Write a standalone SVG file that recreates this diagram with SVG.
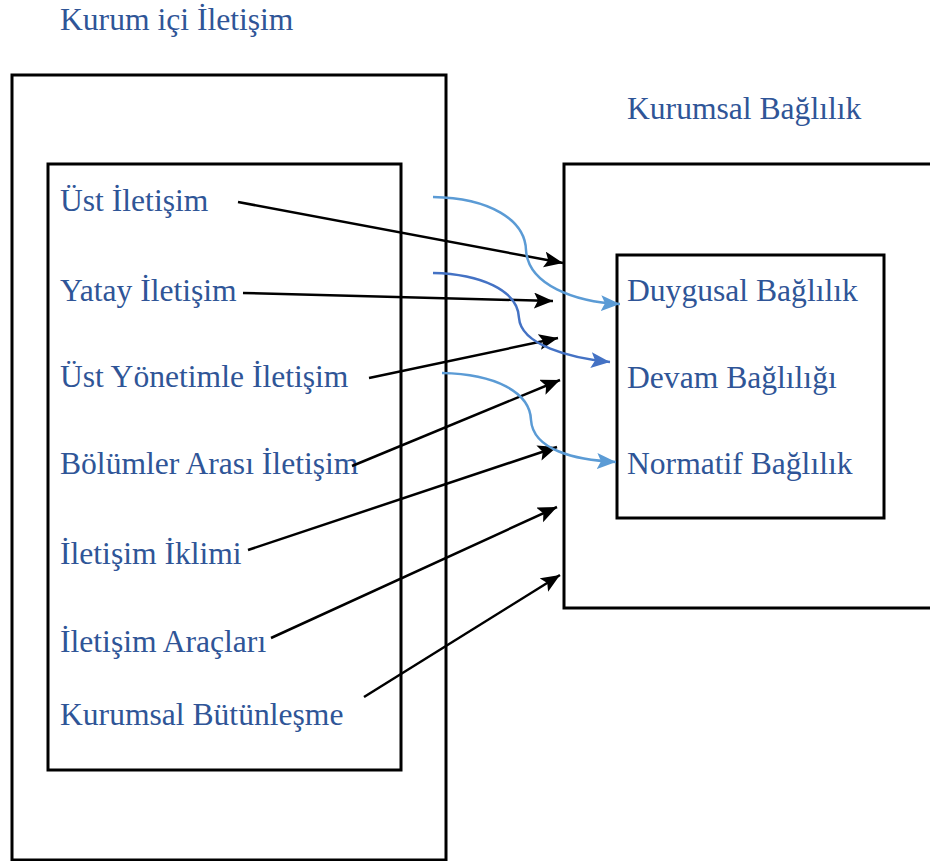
<svg xmlns="http://www.w3.org/2000/svg" width="930" height="861" viewBox="0 0 930 861">
<style>
.box{fill:none;stroke:#000;stroke-width:3}
.t{font-family:"Liberation Serif","Times New Roman",serif;font-size:31.6px;fill:#2F5597}
.a{fill:none;stroke:#000;stroke-width:2.5}
.c1{fill:none;stroke:#5B9BD5;stroke-width:2.5}
.c2{fill:none;stroke:#4472C4;stroke-width:2.5}
</style>
<defs>
<marker id="mk" markerUnits="userSpaceOnUse" markerWidth="22" markerHeight="18" refX="19" refY="8" orient="auto"><path d="M0,0 L19,8 L0,16 L4,8 Z" fill="#000"/></marker>
<marker id="mb1" markerUnits="userSpaceOnUse" markerWidth="22" markerHeight="18" refX="19" refY="8" orient="auto"><path d="M0,0 L19,8 L0,16 L4,8 Z" fill="#5B9BD5"/></marker>
<marker id="mb2" markerUnits="userSpaceOnUse" markerWidth="22" markerHeight="18" refX="19" refY="8" orient="auto"><path d="M0,0 L19,8 L0,16 L4,8 Z" fill="#4472C4"/></marker>
</defs>
<text class="t" x="60" y="30">Kurum içi İletişim</text>
<text class="t" x="627" y="119">Kurumsal Bağlılık</text>
<g id="kurum-ici"><rect class="box" x="12" y="75" width="434" height="785"/></g>
<g id="iletisim-boyutlari">
<rect class="box" x="48" y="164" width="353" height="606"/>
<text class="t" x="60" y="211">Üst İletişim</text>
<text class="t" x="60" y="301">Yatay İletişim</text>
<text class="t" x="60" y="387">Üst Yönetimle İletişim</text>
<text class="t" x="60" y="474">Bölümler Arası İletişim</text>
<text class="t" x="60" y="564">İletişim İklimi</text>
<text class="t" x="60" y="652">İletişim Araçları</text>
<text class="t" x="60" y="725">Kurumsal Bütünleşme</text>
</g>
<g id="kurumsal-baglilik"><rect class="box" x="564" y="164" width="370" height="444"/></g>
<g id="baglilik-boyutlari">
<rect class="box" x="617" y="255" width="267" height="263"/>
<text class="t" x="627" y="301">Duygusal Bağlılık</text>
<text class="t" x="627" y="388">Devam Bağlılığı</text>
<text class="t" x="627" y="474">Normatif Bağlılık</text>
</g>
<g id="connectors">
<line class="a" x1="238" y1="202" x2="563" y2="263" marker-end="url(#mk)"/>
<line class="a" x1="243" y1="293" x2="553" y2="301" marker-end="url(#mk)"/>
<line class="a" x1="369" y1="378" x2="558" y2="338" marker-end="url(#mk)"/>
<line class="a" x1="352" y1="466" x2="560" y2="380" marker-end="url(#mk)"/>
<line class="a" x1="248" y1="550" x2="557" y2="447" marker-end="url(#mk)"/>
<line class="a" x1="271" y1="638" x2="557" y2="507" marker-end="url(#mk)"/>
<line class="a" x1="364" y1="697" x2="560" y2="575" marker-end="url(#mk)"/>
<path class="c1" d="M433,197 C490,198 525,220 526,250 C528,285 575,302 620,304" marker-end="url(#mb1)"/>
<path class="c2" d="M433,273 C480,274 518,290 519,318 C521,345 570,358 610,362" marker-end="url(#mb2)"/>
<path class="c1" d="M442,373 C495,374 530,392 531,420 C533,450 575,460 616,462" marker-end="url(#mb1)"/>
</g>
</svg>
